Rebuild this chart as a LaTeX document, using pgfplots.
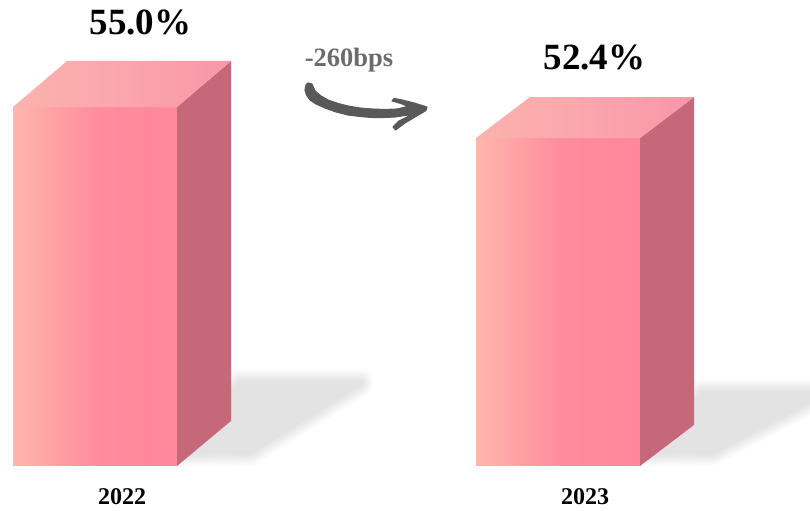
\documentclass[border=0pt]{standalone}
\usepackage{fontspec}
\setmainfont{Liberation Serif}
\usepackage{pgfplots}
\usepackage{pgfplotstable}
\pgfplotsset{compat=1.18}

% Gradients of the bar faces
\definecolor{sideface}{RGB}{197,105,122}
\pgfdeclarehorizontalshading{frontgrad}{100bp}{
  rgb(0bp)=(1,0.715,0.665);
  rgb(25bp)=(1,0.715,0.665);
  rgb(38bp)=(1,0.630,0.650);
  rgb(52bp)=(1,0.545,0.610);
  rgb(75bp)=(1,0.535,0.605);
  rgb(100bp)=(1,0.535,0.605)}
\pgfdeclarehorizontalshading{topgrad}{100bp}{
  rgb(0bp)=(0.985,0.700,0.680);
  rgb(25bp)=(0.985,0.700,0.680);
  rgb(50bp)=(0.985,0.650,0.680);
  rgb(75bp)=(0.975,0.590,0.665);
  rgb(100bp)=(0.975,0.590,0.665)}

% Ground shadows, in picture units (y grows downwards)
\pgfplotstableread{
x y
186 453
239 383
360 383
250 452
}\shadowA
\pgfplotstableread{
x y
649 453
702 393
825 393
712 452
}\shadowB

% Bent arrow between the two bars
\pgfplotstableread{
x y
308 83
312 84
315 91
321 96
328 100
338 103.5
348 106
360 108
372 109
385 109.5
397 109
408 106.5
401 103.5
392 101
394 98.5
400 99.5
414 103
427 107
426 110.5
415 117
405 123
395.5 130
393 127
399 121
412 114.5
405 115.5
395 117
384 117.5
372 117.5
360 116.5
348 115
336 112
325 108
316 104
310 100
306.5 95
305 90
306 85
}\arrowshape

% One soft shadow: nested outlines that darken towards the core
\newcommand{\softshadow}[1]{
  \addplot[draw=s1,fill=s1,line width=28bp,line join=round] table {#1} -- cycle;
  \addplot[draw=s2,fill=s2,line width=25bp,line join=round] table {#1} -- cycle;
  \addplot[draw=s3,fill=s3,line width=22bp,line join=round] table {#1} -- cycle;
  \addplot[draw=s4,fill=s4,line width=19bp,line join=round] table {#1} -- cycle;
  \addplot[draw=s5,fill=s5,line width=16bp,line join=round] table {#1} -- cycle;
  \addplot[draw=s6,fill=s6,line width=13bp,line join=round] table {#1} -- cycle;
  \addplot[draw=s7,fill=s7,line width=10bp,line join=round] table {#1} -- cycle;
  \addplot[draw=s8,fill=s8,line width=7bp,line join=round] table {#1} -- cycle;
  \addplot[draw=s9,fill=s9,line width=4bp,line join=round] table {#1} -- cycle;
}
\definecolor{s1}{HTML}{FDFDFD}\definecolor{s2}{HTML}{FAFAFA}
\definecolor{s3}{HTML}{F7F7F7}\definecolor{s4}{HTML}{F3F3F3}
\definecolor{s5}{HTML}{EFEFEF}\definecolor{s6}{HTML}{ECECEC}
\definecolor{s7}{HTML}{E9E9E9}\definecolor{s8}{HTML}{E6E6E6}
\definecolor{s9}{HTML}{E3E3E3}

\begin{document}
\begin{tikzpicture}[x=1bp,y=1bp]
\useasboundingbox (0,-45) rectangle (810,466);

% Layer in picture units: shadows, arrow and its caption
\begin{axis}[
  at={(0,0)}, anchor=south west,
  scale only axis, width=810bp, height=466bp,
  xmin=0, xmax=810, ymin=0, ymax=466, y dir=reverse,
  hide axis, clip=true]
  \softshadow{\shadowA}
  \softshadow{\shadowB}
  \addplot[draw=black!65,fill=black!65,line width=1.1bp,line join=round] table {\arrowshape} -- cycle;
  \node[text=black!58,font=\fontsize{26.5bp}{28bp}\selectfont\bfseries,anchor=center] at (axis cs:349,60) {-260bps};
\end{axis}

% Bars on the value scale
\begin{axis}[
  at={(0,0)}, anchor=south west,
  scale only axis, width=810bp, height=466bp,
  xmin=0, xmax=810, ymin=24.9, ymax=63.976,
  axis line style={draw=none}, major tick length=0pt,
  ytick=\empty,
  xtick={122,585}, xticklabels={2022,2023},
  x tick label style={font=\fontsize{24bp}{26bp}\selectfont\bfseries,yshift=-19bp},
  clip=true]
  % 2022: front, side and top faces
  \addplot[draw=none,shading=frontgrad] coordinates {(13,24.9)(177,24.9)(177,55)(13,55)} -- cycle;
  \addplot[draw=none,fill=sideface] coordinates {(177,24.9)(231,28.68)(231,58.86)(177,55)} -- cycle;
  \addplot[draw=none,shading=topgrad] coordinates {(13,55)(177,55)(231,58.86)(67,58.86)} -- cycle;
  % 2023: front, side and top faces
  \addplot[draw=none,shading=frontgrad] coordinates {(476,24.9)(640,24.9)(640,52.4)(476,52.4)} -- cycle;
  \addplot[draw=none,fill=sideface] coordinates {(640,24.9)(694,28.34)(694,55.84)(640,52.4)} -- cycle;
  \addplot[draw=none,shading=topgrad] coordinates {(476,52.4)(640,52.4)(694,55.84)(530,55.84)} -- cycle;
  \node[font=\fontsize{37bp}{39bp}\selectfont\bfseries,anchor=center] at (axis cs:140.5,62.05) {55.0\%};
  \node[font=\fontsize{37bp}{39bp}\selectfont\bfseries,anchor=center] at (axis cs:594.5,59.15) {52.4\%};
\end{axis}
\end{tikzpicture}
\end{document}
